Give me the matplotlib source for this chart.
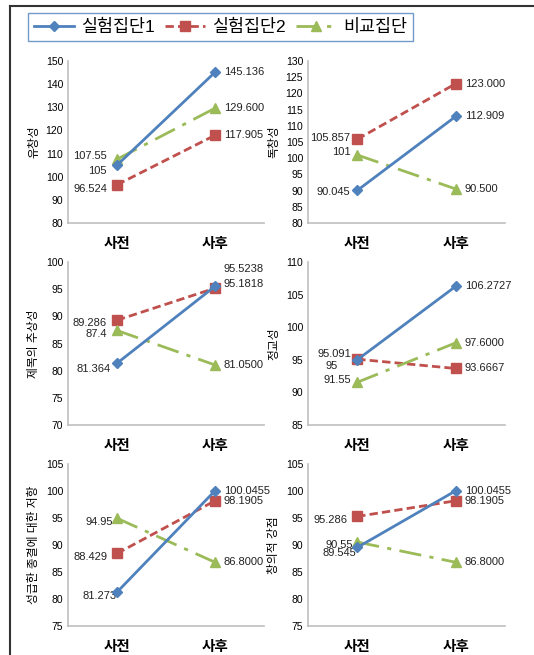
import matplotlib
matplotlib.use('Agg')
import matplotlib.pyplot as plt
from matplotlib.lines import Line2D

plt.rcParams['font.family'] = ['Liberation Sans', 'Noto Sans CJK KR', 'DejaVu Sans']

# 집단별 사전/사후 평균
categories = ['사전', '사후']
series_names = ['실험집단1', '실험집단2', '비교집단']

titles = ['유창성', '독창성', '제목의 추상성', '정교성', '성급한 종결에 대한 저항', '창의적 강점']

group1 = [[105, 145.136], [90.045, 112.909], [81.364, 95.5238],
          [95, 106.2727], [81.273, 100.0455], [89.545, 100.0455]]
group2 = [[96.524, 117.905], [105.857, 123.000], [89.286, 95.1818],
          [95.091, 93.6667], [88.429, 98.1905], [95.286, 98.1905]]
group3 = [[107.55, 129.600], [101, 90.500], [87.4, 81.0500],
          [91.55, 97.6000], [94.95, 86.8000], [90.55, 86.8000]]

# 라벨 문자열 (엑셀 표시 형식 그대로)
labels1 = [['105', '145.136'], ['90.045', '112.909'], ['81.364', '95.5238'],
           ['95', '106.2727'], ['81.273', '100.0455'], ['89.545', '100.0455']]
labels2 = [['96.524', '117.905'], ['105.857', '123.000'], ['89.286', '95.1818'],
           ['95.091', '93.6667'], ['88.429', '98.1905'], ['95.286', '98.1905']]
labels3 = [['107.55', '129.600'], ['101', '90.500'], ['87.4', '81.0500'],
           ['91.55', '97.6000'], ['94.95', '86.8000'], ['90.55', '86.8000']]

y_ranges = [(80, 150, 10), (80, 130, 5), (70, 100, 5),
            (85, 110, 5), (75, 105, 5), (75, 105, 5)]

colors = ['#4F81BD', '#C0504D', '#9BBB59']
styles = [dict(ls='-', marker='D', ms=5),
          dict(ls=(0, (3, 1.5)), marker='s', ms=7),
          dict(ls=(0, (8, 3, 1.5, 3)), marker='^', ms=7)]

# 라벨 위치 보정 (픽셀, 사전/사후)
offsets = [
    [[(-10, -6), (9, 0)], [(-10, -4), (9, 0)], [(-10, 3), (9, 0)]],
    [[(-7, -2), (9, 0)], [(-7, 1), (9, 0)], [(-7, 3), (9, 0)]],
    [[(-6, -6), (9, 17)], [(-10, -3), (9, 4)], [(-10, -4), (9, 0)]],
    [[(-19, -6), (9, 0)], [(-6, 5), (9, 0)], [(-6, 2), (9, 0)]],
    [[(0, -4), (9, 0)], [(-10, -4), (9, 0)], [(-4, -4), (9, 0)]],
    [[(-1, -6), (9, 0)], [(-10, -4), (9, 0)], [(-4, -3), (9, 0)]],
]

W, H = 534, 655
fig = plt.figure(figsize=(W / 100, H / 100), dpi=100)

lefts = [68, 308]
widths = [196, 197]
rows = [(61, 223), (262, 425), (464, 626)]

for i in range(6):
    r, c = divmod(i, 2)
    top, bot = rows[r]
    ax = fig.add_axes([lefts[c] / W, 1 - bot / H, widths[c] / W, (bot - top) / H])
    x = [0, 1]
    data = [group1[i], group2[i], group3[i]]
    labs = [labels1[i], labels2[i], labels3[i]]
    for k in range(3):
        ax.plot(x, data[k], color=colors[k], lw=2, mec=colors[k], mfc=colors[k],
                **styles[k], zorder=3 + (k == 0))
        for j in range(2):
            dx, dy = offsets[i][k][j]
            ax.annotate(labs[k][j], (x[j], data[k][j]), xytext=(dx, dy),
                        textcoords='offset pixels', fontsize=8,
                        ha='right' if j == 0 else 'left', va='center', color='#222222')
    lo, hi, st = y_ranges[i]
    ax.set_ylim(lo, hi)
    ax.set_yticks(list(range(lo, hi + 1, st)))
    ax.set_xlim(-0.5, 1.5)
    ax.set_xticks(x)
    ax.set_xticklabels(categories, fontsize=10.5, fontweight='bold')
    ax.tick_params(axis='both', length=0, labelsize=7.5)
    ax.tick_params(axis='x', labelsize=10.5, pad=10)
    for lab in ax.get_xticklabels():
        lab.set_fontweight('bold')
    for s in ['top', 'right']:
        ax.spines[s].set_visible(False)
    for s in ['left', 'bottom']:
        ax.spines[s].set_color('#BFBFBF')
        ax.spines[s].set_linewidth(1.2)
    ax.set_ylabel(titles[i], fontsize=8.5, labelpad=4)

# 범례
handles = [Line2D([], [], color=colors[k], lw=2, mec=colors[k], mfc=colors[k], **styles[k])
           for k in range(3)]
leg = fig.legend(handles, series_names, loc='upper left',
                 bbox_to_anchor=(28 / W, 1 - 13 / H), ncol=3, fontsize=12.5,
                 frameon=True, fancybox=False, handlelength=2.3, handletextpad=0.4,
                 columnspacing=0.6, borderpad=0.35, borderaxespad=0)
leg.get_frame().set_edgecolor('#4F81BD')
leg.get_frame().set_linewidth(1)

# 바깥 테두리 (위, 왼쪽)
fig.add_artist(Line2D([10 / W, 1], [1 - 6 / H, 1 - 6 / H], color='#333333', lw=1.5))
fig.add_artist(Line2D([10 / W, 10 / W], [1 - 6 / H, 0], color='#333333', lw=1.5))

fig.savefig('out.png', dpi=100)
